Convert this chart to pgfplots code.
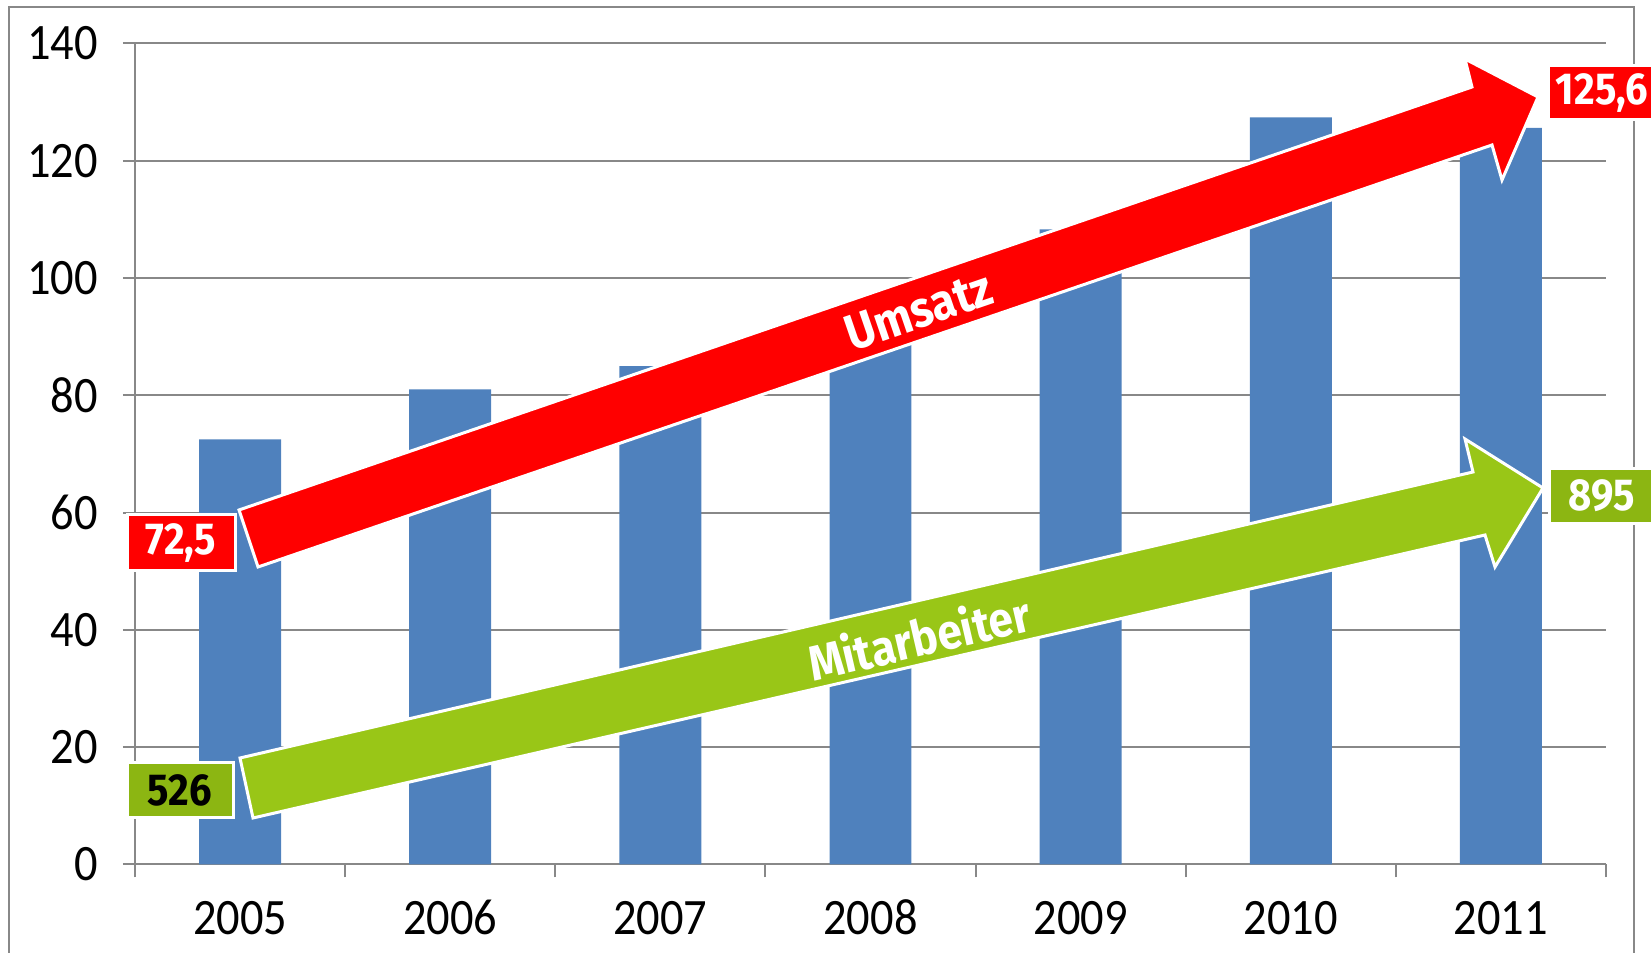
\documentclass[border=0pt]{standalone}
\usepackage{pgfplots}
\pgfplotsset{compat=1.18}
\usepackage{graphicx}
\usepackage{fontspec}
\setmainfont{Carlito}
\newfontfamily\fira{Fira Sans}
\definecolor{barblue}{HTML}{4F81BD}
\definecolor{gridgray}{HTML}{888888}
\definecolor{arrowred}{HTML}{FF0000}
\definecolor{arrowgreen}{HTML}{99C617}
\definecolor{labelgreen}{HTML}{8CB612}
\newcommand{\st}[1]{\scalebox{1}[1.1]{#1}}
\newcommand{\lt}[1]{\scalebox{1}[1.12]{#1}}
\begin{document}
\begin{tikzpicture}
\useasboundingbox (0,0) rectangle (825.5pt,476.5pt);
\begin{axis}[
  at={(67.5pt,44.25pt)}, anchor=south west,
  scale only axis, width=735.5pt, height=410.5pt,
  xmin=-0.5, xmax=6.5, ymin=0, ymax=140,
  ybar, bar width=0.39,
  axis lines*=left,
  axis line style={gridgray, line width=1pt},
  xtick={0,...,6},
  xticklabels={\st{2005},\st{2006},\st{2007},\st{2008},\st{2009},\st{2010},\st{2011}},
  minor xtick={-0.5,0.5,...,6.5},
  major x tick style={draw=none},
  minor x tick style={gridgray, line width=1pt},
  minor tick length=6.5pt,
  ytick={0,20,...,140},
  yticklabel={\st{\pgfmathprintnumber{\tick}}},
  ytick style={gridgray, line width=1pt},
  major tick length=6pt,
  tick align=outside,
  ymajorgrids, grid style={gridgray, line width=1pt},
  /pgf/number format/assume math mode=true,
  ticklabel style={font=\fontsize{23.2pt}{27pt}\selectfont},
  xticklabel style={text height=16pt, text depth=0pt},
  yticklabel shift=9pt,
  xticklabel shift=9.5pt,
]
\addplot[fill=barblue, draw=none] coordinates {(0,72.5) (1,81) (2,85) (3,90) (4,108.3) (5,127.4) (6,125.6)};
\end{axis}
\begin{scope}[shift={(0,476.5pt)}, x=0.5pt, y=-0.5pt]
  \draw[gridgray, line width=1pt] (9,7) rectangle (1634,980);
  % red arrow
  \fill[arrowred, draw=white, line width=1.5pt, line join=miter]
    (239,510) -- (1472,87) -- (1465,59) -- (1538,97) -- (1502,180) -- (1492,145) -- (258,567) -- cycle;
  \node[rotate=18.9, text=white, font=\fira\bfseries\fontsize{22.5pt}{26pt}\selectfont] at (919,311) {\lt{Umsatz}};
  % green arrow
  \fill[arrowgreen, draw=white, line width=1.5pt, line join=miter]
    (240,758) -- (1473,472) -- (1465,439) -- (1543,488) -- (1495,567) -- (1485,535) -- (253,818) -- cycle;
  \node[rotate=13.06, text=white, font=\fira\bfseries\fontsize{22pt}{26pt}\selectfont] at (919,637) {\lt{Mitarbeiter}};
  % labels
  \fill[arrowred, draw=white, line width=1.5pt] (127,515) rectangle (235,571);
  \node[text=white, font=\fira\bfseries\fontsize{20pt}{22pt}\selectfont] at (181,543) {\lt{72,5}};
  \fill[arrowred, draw=white, line width=1.5pt] (1548,66) rectangle (1660,120);
  \node[text=white, font=\fira\bfseries\fontsize{20pt}{22pt}\selectfont] at (1602,93) {\lt{125,6}};
  \fill[labelgreen, draw=white, line width=1.5pt] (127,763) rectangle (233,818);
  \node[text=black, font=\fira\bfseries\fontsize{20pt}{22pt}\selectfont] at (180,790) {\lt{526}};
  \fill[labelgreen, draw=white, line width=1.5pt] (1549,469) rectangle (1660,524);
  \node[text=white, font=\fira\bfseries\fontsize{20pt}{22pt}\selectfont] at (1602,496) {\lt{895}};
\end{scope}
\end{tikzpicture}
\end{document}
